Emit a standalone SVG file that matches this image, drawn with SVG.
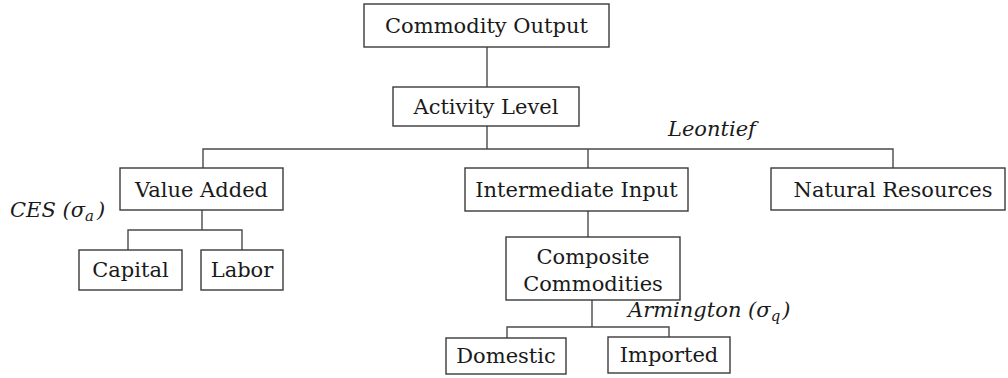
<svg xmlns="http://www.w3.org/2000/svg" width="1008" height="378" viewBox="0 0 1008 378">
<style>
.box{fill:#fff;stroke:#3a3a3a;stroke-width:1.4}
.t{font-family:"DejaVu Serif","Liberation Serif",serif;font-size:21px;fill:#1a1a1a;text-anchor:middle}
.lbl{font-family:"DejaVu Serif","Liberation Serif",serif;font-size:21px;font-style:italic;fill:#1a1a1a}
.ln{fill:none;stroke:#4a4a4a;stroke-width:1.4}
</style>
<rect width="1008" height="378" fill="#fff"/>
<g id="connectors">
<path class="ln" d="M487 47V87"/>
<path class="ln" d="M487 126V149M203 168V149H893V168M588 149V168"/>
<path class="ln" d="M202 210V230M128 250V230H242V250"/>
<path class="ln" d="M588 210V237"/>
<path class="ln" d="M592 300V327M507 338V327H669V338"/>
</g>
<g id="commodity-output"><rect class="box" x="364" y="4" width="245" height="43"/><text class="t" x="486.5" y="33">Commodity Output</text></g>
<g id="activity-level"><rect class="box" x="393" y="87" width="186" height="39"/><text class="t" x="486" y="113.5">Activity Level</text></g>
<g id="leontief-label"><text class="lbl" x="668" y="136">Leontief</text></g>
<g id="value-added"><rect class="box" x="120" y="168" width="163" height="42"/><text class="t" x="201.5" y="196.5">Value Added</text></g>
<g id="intermediate-input"><rect class="box" x="465" y="168" width="223" height="43"/><text class="t" x="576.5" y="196.5">Intermediate Input</text></g>
<g id="natural-resources"><rect class="box" x="771" y="168" width="234" height="42"/><text class="t" x="893" y="196.5">Natural Resources</text></g>
<g id="ces-label"><text class="lbl" x="10" y="217">CES (<tspan>σ</tspan><tspan font-size="15" dy="4">a</tspan><tspan dy="-4" dx="3">)</tspan></text></g>
<g id="capital"><rect class="box" x="79" y="250" width="103" height="40"/><text class="t" x="130.5" y="276.5">Capital</text></g>
<g id="labor"><rect class="box" x="201" y="250" width="82" height="40"/><text class="t" x="242" y="276.5">Labor</text></g>
<g id="composite-commodities"><rect class="box" x="506" y="237" width="174" height="63"/><text class="t" x="593" y="263.5">Composite</text><text class="t" x="593" y="290.5">Commodities</text></g>
<g id="armington-label"><text class="lbl" x="628" y="317">Armington (<tspan>σ</tspan><tspan font-size="15" dy="4">q</tspan><tspan dy="-4" dx="2">)</tspan></text></g>
<g id="domestic"><rect class="box" x="446" y="338" width="120" height="36"/><text class="t" x="506" y="362.5">Domestic</text></g>
<g id="imported"><rect class="box" x="608" y="337" width="122" height="36"/><text class="t" x="669" y="361.5">Imported</text></g>
</svg>
